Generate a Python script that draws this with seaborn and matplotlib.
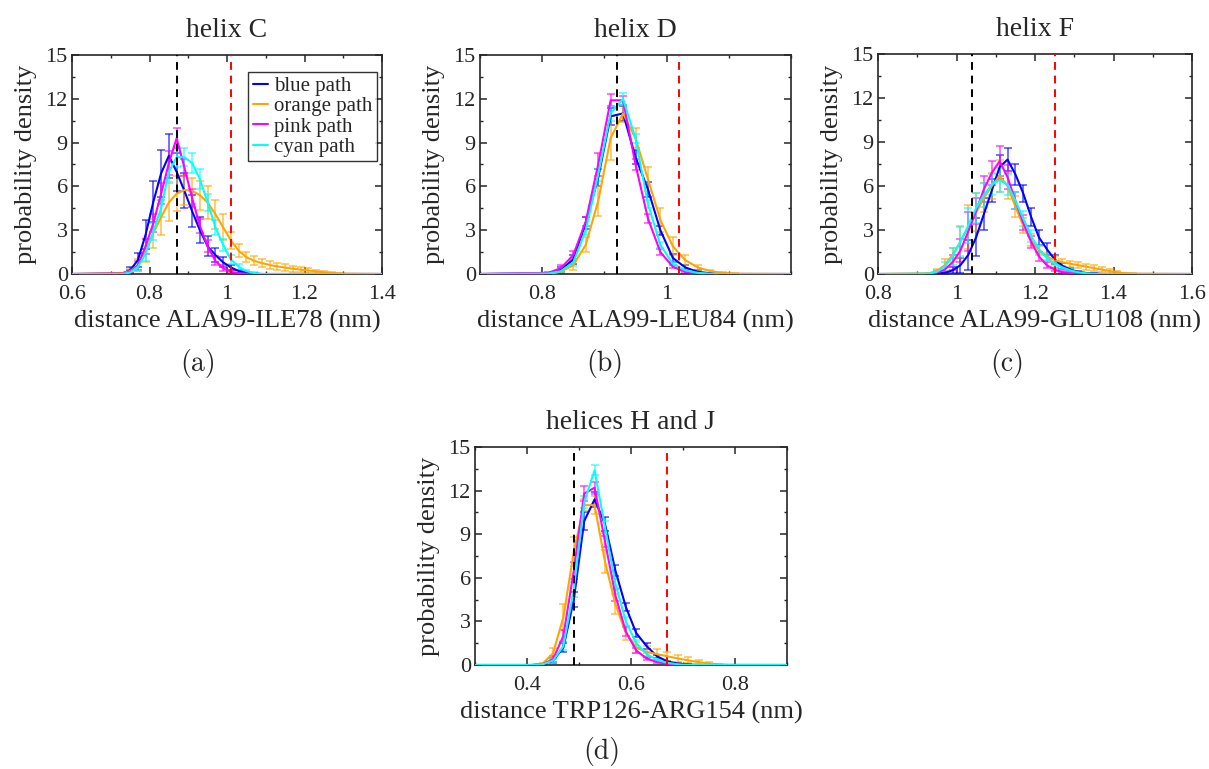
import numpy as np
import pandas as pd
import seaborn as sns
import matplotlib
import matplotlib.pyplot as plt
from matplotlib.ticker import MultipleLocator

matplotlib.use("agg")

# ---- data ----
path_names = ["blue path", "orange path", "pink path", "cyan path"]
path_colors = ["#0000ff", "#ffa500", "#ff00ff", "#00ffff"]

# panel (a): helix C
c_bins = np.round(np.arange(0.73, 1.295, 0.02), 2)
c_blue = [0.05, 0.25, 0.95, 2.7, 4.95, 6.9, 8.1, 7.0, 5.7, 4.3, 3.0, 1.9, 1.3, 0.8, 0.45,
          0.2, 0.08, 0.03, 0, 0, 0, 0, 0, 0, 0, 0, 0, 0, 0]
c_orange = [0.05, 0.2, 0.6, 1.6, 2.8, 3.9, 4.9, 5.5, 5.75, 5.7, 5.4, 4.9, 4.1, 3.2, 2.3,
            1.6, 1.15, 0.9, 0.75, 0.62, 0.52, 0.44, 0.36, 0.3, 0.24, 0.18, 0.12, 0.07, 0.03]
c_pink = [0.02, 0.15, 0.6, 1.9, 3.5, 5.5, 7.6, 9.3, 7.3, 5.2, 3.3, 1.9, 0.9, 0.4, 0.15,
          0.05, 0.02, 0, 0, 0, 0, 0, 0, 0, 0, 0, 0, 0, 0]
c_cyan = [0, 0.1, 0.5, 1.4, 2.9, 4.5, 7.0, 8.0, 8.0, 7.6, 6.5, 4.9, 3.2, 2.0, 1.0,
          0.5, 0.2, 0.07, 0, 0, 0, 0, 0, 0, 0, 0, 0, 0, 0]
c_blue_err = [0.05, 0.2, 0.5, 1.0, 1.4, 1.6, 1.5, 1.3, 1.2, 1.1, 0.9, 0.7, 0.5, 0.35, 0.2,
              0.1, 0.05, 0.02, 0, 0, 0, 0, 0, 0, 0, 0, 0, 0, 0]
c_orange_err = [0.05, 0.15, 0.4, 0.8, 1.0, 1.2, 1.3, 1.2, 1.0, 0.9, 1.0, 1.1, 1.0, 0.9, 0.6,
                0.45, 0.35, 0.3, 0.28, 0.26, 0.24, 0.22, 0.2, 0.18, 0.15, 0.12, 0.1, 0.06, 0.03]
c_pink_err = [0.02, 0.1, 0.3, 0.5, 0.6, 0.7, 0.8, 0.7, 0.6, 0.6, 0.5, 0.4, 0.3, 0.2, 0.1,
              0.05, 0.02, 0, 0, 0, 0, 0, 0, 0, 0, 0, 0, 0, 0]
c_cyan_err = [0, 0.08, 0.3, 0.5, 0.6, 0.6, 0.7, 0.7, 0.6, 0.7, 0.7, 0.6, 0.5, 0.4, 0.3,
              0.2, 0.1, 0.05, 0, 0, 0, 0, 0, 0, 0, 0, 0, 0, 0]

# panel (b): helix D
d_bins = np.round(np.arange(0.81, 1.115, 0.02), 2)
d_blue = [0.05, 0.3, 1.0, 3.5, 6.6, 10.8, 11.0, 8.0, 5.8, 3.0, 1.1, 0.45, 0.15, 0.05, 0, 0]
d_orange = [0, 0.15, 0.6, 2.0, 5.0, 9.3, 11.0, 9.3, 6.5, 3.7, 1.9, 0.95, 0.45, 0.2, 0.08, 0.02]
d_pink = [0.08, 0.4, 1.3, 3.6, 7.5, 11.9, 11.9, 7.5, 3.8, 1.5, 0.5, 0.15, 0.05, 0, 0, 0]
d_cyan = [0.03, 0.2, 0.8, 3.0, 6.8, 11.0, 12.0, 9.3, 4.8, 2.0, 0.7, 0.25, 0.08, 0.02, 0, 0]
d_blue_err = [0.05, 0.2, 0.3, 0.4, 0.6, 0.6, 0.5, 0.5, 0.5, 0.3, 0.3, 0.2, 0.1, 0.05, 0, 0]
d_orange_err = [0, 0.1, 0.3, 0.5, 1.0, 1.5, 0.6, 0.7, 0.8, 0.8, 0.6, 0.35, 0.2, 0.1, 0.05, 0.02]
d_pink_err = [0.05, 0.2, 0.3, 0.3, 0.8, 0.4, 0.3, 0.4, 0.3, 0.2, 0.1, 0.05, 0.02, 0, 0, 0]
d_cyan_err = [0.02, 0.15, 0.25, 0.3, 0.4, 0.5, 0.4, 0.3, 0.3, 0.2, 0.1, 0.05, 0.02, 0.01, 0, 0]

# panel (c): helix F
f_bins = np.round(np.arange(0.93, 1.455, 0.02), 2)
f_blue = [0, 0.02, 0.08, 0.25, 0.6, 1.3, 2.5, 4.1, 5.7, 7.3, 7.8, 6.8, 5.5, 3.9, 2.5,
          1.7, 1.0, 0.55, 0.3, 0.15, 0.07, 0.03, 0, 0, 0, 0, 0]
f_orange = [0.05, 0.2, 0.6, 1.3, 2.2, 3.2, 4.2, 5.2, 6.0, 6.7, 6.0, 4.6, 3.3, 2.3, 1.6,
            1.2, 0.95, 0.8, 0.7, 0.6, 0.5, 0.4, 0.3, 0.2, 0.12, 0.05, 0.02]
f_pink = [0, 0.1, 0.3, 0.8, 1.6, 2.9, 4.3, 5.8, 6.9, 7.7, 6.6, 5.0, 3.5, 2.2, 1.2,
          0.6, 0.3, 0.12, 0.05, 0, 0, 0, 0, 0, 0, 0, 0]
f_cyan = [0.03, 0.15, 0.5, 1.2, 2.2, 3.3, 4.5, 5.4, 6.1, 6.4, 6.1, 5.0, 3.8, 2.6, 1.7,
          1.1, 0.7, 0.45, 0.25, 0.12, 0.05, 0.02, 0, 0, 0, 0, 0]
f_blue_err = [0, 0.02, 0.05, 0.2, 0.5, 1.0, 1.3, 1.1, 0.8, 0.8, 0.8, 0.7, 0.6, 0.6, 0.5,
              0.4, 0.3, 0.2, 0.1, 0.05, 0.03, 0.01, 0, 0, 0, 0, 0]
f_orange_err = [0.03, 0.15, 0.4, 0.5, 1.1, 1.5, 1.3, 1.0, 0.9, 1.1, 0.9, 0.7, 0.5, 0.4, 0.3,
                0.25, 0.25, 0.25, 0.22, 0.2, 0.2, 0.18, 0.15, 0.12, 0.08, 0.04, 0.02]
f_pink_err = [0, 0.08, 0.2, 0.5, 0.8, 1.3, 0.9, 0.9, 0.8, 1.0, 0.8, 0.6, 0.5, 0.4, 0.3,
              0.2, 0.12, 0.06, 0.03, 0, 0, 0, 0, 0, 0, 0, 0]
f_cyan_err = [0.02, 0.1, 0.3, 0.6, 1.0, 1.2, 1.0, 0.8, 0.7, 0.8, 0.7, 0.6, 0.5, 0.4, 0.3,
              0.2, 0.15, 0.1, 0.06, 0.03, 0.02, 0.01, 0, 0, 0, 0, 0]

# panel (d): helices H and J
h_bins = np.round(np.arange(0.41, 0.795, 0.02), 2)
h_blue = [0, 0.05, 0.3, 1.2, 4.5, 9.9, 11.4, 9.7, 6.5, 4.0, 2.2, 1.3, 0.6, 0.25, 0.1,
          0.03, 0, 0, 0, 0]
h_orange = [0, 0.1, 0.8, 3.3, 7.8, 11.0, 11.0, 7.1, 4.2, 2.2, 1.2, 0.9, 0.75, 0.6, 0.45,
            0.32, 0.2, 0.1, 0.04, 0.01]
h_pink = [0, 0.05, 0.4, 2.0, 6.5, 11.8, 12.2, 8.5, 4.8, 2.3, 1.0, 0.45, 0.2, 0.07, 0,
          0, 0, 0, 0, 0]
h_cyan = [0, 0.05, 0.3, 1.3, 5.2, 11.2, 13.4, 9.5, 5.6, 3.0, 1.5, 0.75, 0.35, 0.15, 0.05,
          0, 0, 0, 0, 0]
h_blue_err = [0, 0.03, 0.15, 0.3, 0.5, 0.6, 0.5, 0.5, 0.4, 0.3, 0.3, 0.2, 0.1, 0.05, 0.03,
              0.01, 0, 0, 0, 0]
h_orange_err = [0, 0.05, 0.4, 0.9, 1.0, 0.4, 0.6, 0.8, 0.7, 0.5, 0.4, 0.4, 0.35, 0.3, 0.25,
                0.2, 0.15, 0.08, 0.03, 0.01]
h_pink_err = [0, 0.03, 0.2, 0.4, 0.6, 0.5, 0.4, 0.4, 0.4, 0.3, 0.2, 0.1, 0.05, 0.02, 0,
              0, 0, 0, 0, 0]
h_cyan_err = [0, 0.03, 0.15, 0.3, 0.5, 0.4, 0.35, 0.4, 0.3, 0.3, 0.2, 0.1, 0.05, 0.02, 0.01,
              0, 0, 0, 0, 0]

panels = [
    dict(title="helix C", xlabel="distance ALA99-ILE78 (nm)", tag="(a)",
         xlim=(0.6, 1.4), ticks=[0.6, 0.8, 1.0, 1.2, 1.4], ref=(0.87, 1.01), bins=c_bins,
         ys=[c_blue, c_orange, c_pink, c_cyan],
         errs=[c_blue_err, c_orange_err, c_pink_err, c_cyan_err],
         box=(72, 55, 382, 274), tagpos=(198, 362), legend=True),
    dict(title="helix D", xlabel="distance ALA99-LEU84 (nm)", tag="(b)",
         xlim=(0.7, 1.2), ticks=[0.8, 1.0], ref=(0.92, 1.02), bins=d_bins,
         ys=[d_blue, d_orange, d_pink, d_cyan],
         errs=[d_blue_err, d_orange_err, d_pink_err, d_cyan_err],
         box=(480, 55, 791, 274), tagpos=(605, 362), legend=False),
    dict(title="helix F", xlabel="distance ALA99-GLU108 (nm)", tag="(c)",
         xlim=(0.8, 1.6), ticks=[0.8, 1.0, 1.2, 1.4, 1.6], ref=(1.04, 1.25), bins=f_bins,
         ys=[f_blue, f_orange, f_pink, f_cyan],
         errs=[f_blue_err, f_orange_err, f_pink_err, f_cyan_err],
         box=(878, 54, 1192, 274), tagpos=(1007, 362), legend=False),
    dict(title="helices H and J", xlabel="distance TRP126-ARG154 (nm)", tag="(d)",
         xlim=(0.3, 0.9), ticks=[0.4, 0.6, 0.8], ref=(0.49, 0.67), bins=h_bins,
         ys=[h_blue, h_orange, h_pink, h_cyan],
         errs=[h_blue_err, h_orange_err, h_pink_err, h_cyan_err],
         box=(475, 447, 787, 665), tagpos=(602, 750), legend=False),
]

sns.set_style("ticks", {
    "xtick.direction": "in", "ytick.direction": "in",
    "xtick.top": True, "ytick.right": True,
})
plt.rcParams["font.family"] = ["Liberation Serif", "DejaVu Serif"]
plt.rcParams["axes.linewidth"] = 1.2

W, H = 1209, 769
fig = plt.figure(figsize=(W / 100, H / 100), dpi=100)
fig.patch.set_facecolor("white")

for p in panels:
    x0, y0, x1, y1 = p["box"]
    ax = fig.add_axes([x0 / W, 1 - y1 / H, (x1 - x0) / W, (y1 - y0) / H])
    lo, hi = p["xlim"]

    for name, color, y, e in zip(path_names, path_colors, p["ys"], p["errs"]):
        df = pd.DataFrame({"x": np.concatenate([[lo], p["bins"], [hi]]),
                           "y": np.concatenate([[0], y, [0]])})
        sns.lineplot(data=df, x="x", y="y", color=color, lw=1.5, ax=ax,
                     label=name, sort=False, errorbar=None, zorder=3)
        ax.errorbar(p["bins"], y, yerr=e, fmt="none", ecolor=color, alpha=0.6,
                    elinewidth=1.3, capsize=3, capthick=1.3, zorder=2)

    ax.axvline(p["ref"][0], color="black", ls=(0, (4, 3)), lw=1.4, zorder=4)
    ax.axvline(p["ref"][1], color="red", ls=(0, (4, 3)), lw=1.4, zorder=4)

    ax.set_xlim(lo, hi)
    ax.set_ylim(0, 15)
    ax.yaxis.set_major_locator(MultipleLocator(3))
    ax.yaxis.set_minor_locator(MultipleLocator(1.5))
    ax.xaxis.set_minor_locator(MultipleLocator(0.1))
    ax.set_xticks(p["ticks"])
    ax.set_xticklabels(["%g" % t for t in p["ticks"]])
    ax.tick_params(which="major", length=5, width=1.1, labelsize=16)
    ax.tick_params(which="minor", length=2.5, width=1.0)
    ax.tick_params(axis="x", pad=8)
    ax.tick_params(axis="y", pad=3)

    ax.set_xlabel(p["xlabel"], fontsize=19, labelpad=4)
    ax.set_ylabel("probability density", fontsize=19, labelpad=6)
    ax.set_title(p["title"], fontsize=20, pad=13)

    if p["legend"]:
        leg = ax.legend(loc="upper right", bbox_to_anchor=(0.984, 0.922),
                        fontsize=15, frameon=True, fancybox=False,
                        handlelength=0.75, handletextpad=0.3, borderpad=0.2,
                        labelspacing=0.04, borderaxespad=0)
        leg.get_frame().set_edgecolor("black")
        leg.get_frame().set_linewidth(1.0)
    else:
        ax.get_legend().remove()

    fig.text(p["tagpos"][0] / W, 1 - (p["tagpos"][1] + 2) / H, p["tag"],
             family="cmr10", fontsize=20, ha="center", va="center")

fig.savefig("out.png", dpi=100, facecolor="white")
